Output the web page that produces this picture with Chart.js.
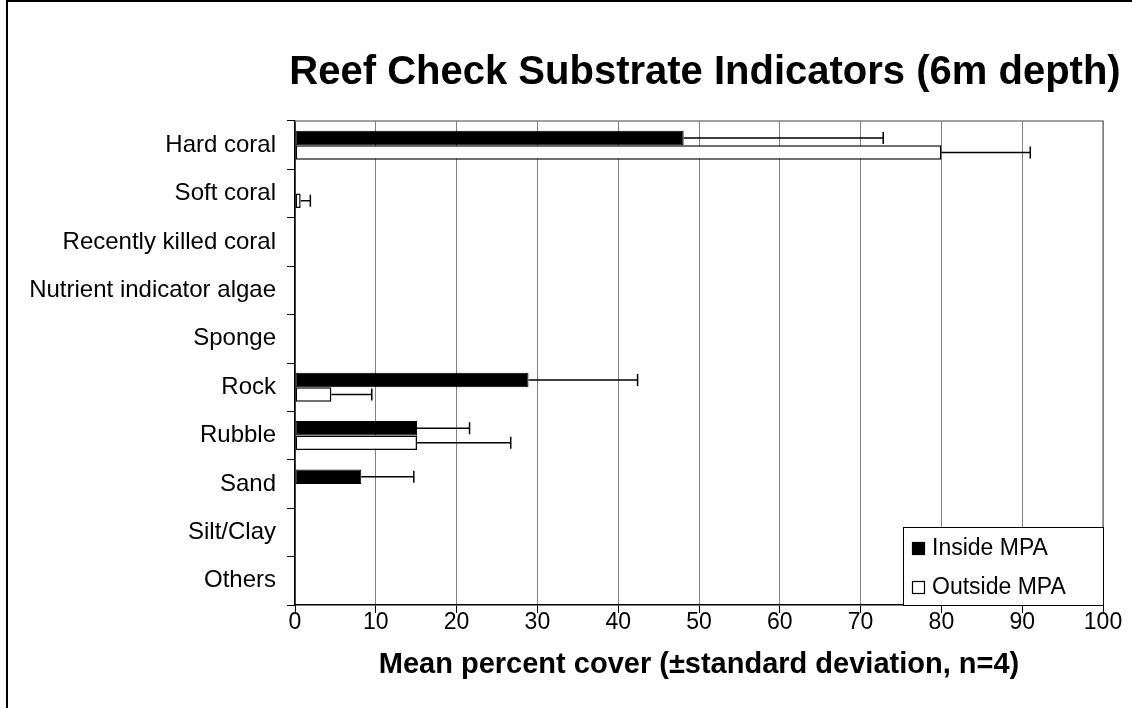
<!DOCTYPE html>
<html>
<head>
<meta charset="utf-8">
<script src="https://cdn.jsdelivr.net/npm/chart.js@4"></script>
<style>
  html, body { margin: 0; padding: 0; background: #fff; }
  #wrap { width: 1132px; height: 708px; position: relative; }
</style>
</head>
<body>
<div id="wrap"><canvas id="chart" width="1132" height="708"></canvas></div>
<script>
const chartTitle = 'Reef Check Substrate Indicators (6m depth)';
const categories = ['Hard coral', 'Soft coral', 'Recently killed coral', 'Nutrient indicator algae',
  'Sponge', 'Rock', 'Rubble', 'Sand', 'Silt/Clay', 'Others'];
const insideMean = [48.1, 0, 0, 0, 0, 28.9, 15.1, 8.2, 0, 0];
const insideSd   = [24.7, 0, 0, 0, 0, 13.5, 6.5, 6.5, 0, 0];
const outsideMean = [80, 0.7, 0, 0, 0, 4.5, 15.1, 0, 0, 0];
const outsideSd   = [11, 1.2, 0, 0, 0, 5, 11.6, 0, 0, 0];
const xTicks = [0, 10, 20, 30, 40, 50, 60, 70, 80, 90, 100];

const FONT = "'Liberation Sans', Arial, sans-serif";

// white page, frame on left and top, title a bit right of the plot centre
const framePlugin = {
  id: 'frame',
  beforeDraw(chart) {
    const ctx = chart.ctx;
    ctx.save();
    ctx.fillStyle = '#fff';
    ctx.fillRect(0, 0, chart.width, chart.height);
    ctx.strokeStyle = '#000';
    ctx.lineWidth = 2;
    ctx.beginPath();
    ctx.moveTo(7, chart.height);
    ctx.lineTo(7, 1);
    ctx.lineTo(chart.width, 1);
    ctx.stroke();
    ctx.restore();
  },
  afterDraw(chart) {
    const a = chart.chartArea, ctx = chart.ctx;
    ctx.save();
    // gray top/right border of plot area
    ctx.strokeStyle = '#808080';
    ctx.lineWidth = 1.5;
    ctx.beginPath();
    ctx.moveTo(a.left, a.top);
    ctx.lineTo(a.right, a.top);
    ctx.lineTo(a.right, a.bottom);
    ctx.stroke();
    ctx.fillStyle = '#000';
    ctx.font = 'bold 40px ' + FONT;
    ctx.textAlign = 'center';
    ctx.textBaseline = 'middle';
    ctx.fillText(chartTitle, (a.left + a.right) / 2 + 6, a.top - 48);
    ctx.restore();
  }
};

// one-sided (+) error bars from the sd arrays
const errorBars = {
  id: 'errorBars',
  afterDatasetsDraw(chart) {
    const ctx = chart.ctx, xs = chart.scales.x;
    const sds = [insideSd, outsideSd];
    ctx.save();
    ctx.strokeStyle = '#000';
    ctx.lineWidth = 1.5;
    chart.data.datasets.forEach((ds, di) => {
      const meta = chart.getDatasetMeta(di);
      meta.data.forEach((bar, i) => {
        const sd = sds[di][i];
        if (!sd) return;
        const x0 = xs.getPixelForValue(ds.data[i]);
        const x1 = xs.getPixelForValue(ds.data[i] + sd);
        const h = 6;
        ctx.beginPath();
        ctx.moveTo(x0, bar.y);
        ctx.lineTo(x1, bar.y);
        ctx.moveTo(x1, bar.y - h);
        ctx.lineTo(x1, bar.y + h);
        ctx.stroke();
      });
    });
    ctx.restore();
  }
};

// legend box sitting inside the bottom right corner of the plot
const boxLegend = {
  id: 'boxLegend',
  afterDraw(chart) {
    const a = chart.chartArea, ctx = chart.ctx;
    const w = 200, h = 78;
    const x = a.right - w, y = a.bottom - h;
    ctx.save();
    ctx.fillStyle = '#fff';
    ctx.fillRect(x, y, w, h);
    ctx.strokeStyle = '#000';
    ctx.lineWidth = 1;
    ctx.strokeRect(x + 0.5, y + 0.5, w, h);
    ctx.font = '23px ' + FONT;
    ctx.textBaseline = 'middle';
    chart.data.datasets.forEach((ds, i) => {
      const cy = y + 21 + i * 39;
      ctx.fillStyle = ds.backgroundColor;
      ctx.fillRect(x + 9.5, cy - 5.5, 12, 12);
      ctx.strokeStyle = '#000';
      ctx.lineWidth = 1.2;
      ctx.strokeRect(x + 9.5, cy - 5.5, 12, 12);
      ctx.fillStyle = '#000';
      ctx.fillText(ds.label, x + 29, cy + 1);
    });
    ctx.restore();
  }
};

new Chart(document.getElementById('chart'), {
  type: 'bar',
  data: {
    labels: categories,
    datasets: [
      { label: 'Inside MPA', data: insideMean, backgroundColor: '#000', borderColor: '#000',
        borderWidth: 1, borderSkipped: false },
      { label: 'Outside MPA', data: outsideMean, backgroundColor: '#fff', borderColor: '#000',
        borderWidth: 1.5, borderSkipped: false }
    ]
  },
  options: {
    indexAxis: 'y',
    responsive: false,
    animation: false,
    devicePixelRatio: 1,
    layout: { padding: { left: 10, right: 29, top: 121, bottom: 0 } },
    datasets: { bar: { categoryPercentage: 0.6, barPercentage: 1 } },
    plugins: {
      legend: { display: false },
      tooltip: { enabled: false },
      title: { display: false }
    },
    scales: {
      x: {
        min: 0, max: 100,
        afterBuildTicks: s => { s.ticks = xTicks.map(v => ({ value: v })); },
        afterFit: s => { s.height = 103; },
        grid: { color: '#808080', lineWidth: 1, tickColor: '#000', tickLength: 8 },
        border: { color: '#000', width: 1.5 },
        ticks: { color: '#000', font: { family: FONT, size: 23 }, padding: -4, maxRotation: 0 },
        title: {
          display: true,
          text: 'Mean percent cover (±standard deviation, n=4)',
          color: '#000',
          font: { family: FONT, size: 29, weight: 'bold' },
          padding: { top: 0, bottom: 26 }
        }
      },
      y: {
        afterFit: s => { s.width = 285; },
        grid: { drawOnChartArea: false, tickColor: '#000', tickLength: 8, offset: true },
        border: { color: '#000', width: 1.5 },
        ticks: { color: '#000', font: { family: FONT, size: 24 }, padding: 11, autoSkip: false }
      }
    }
  },
  plugins: [framePlugin, errorBars, boxLegend]
});
</script>
</body>
</html>
